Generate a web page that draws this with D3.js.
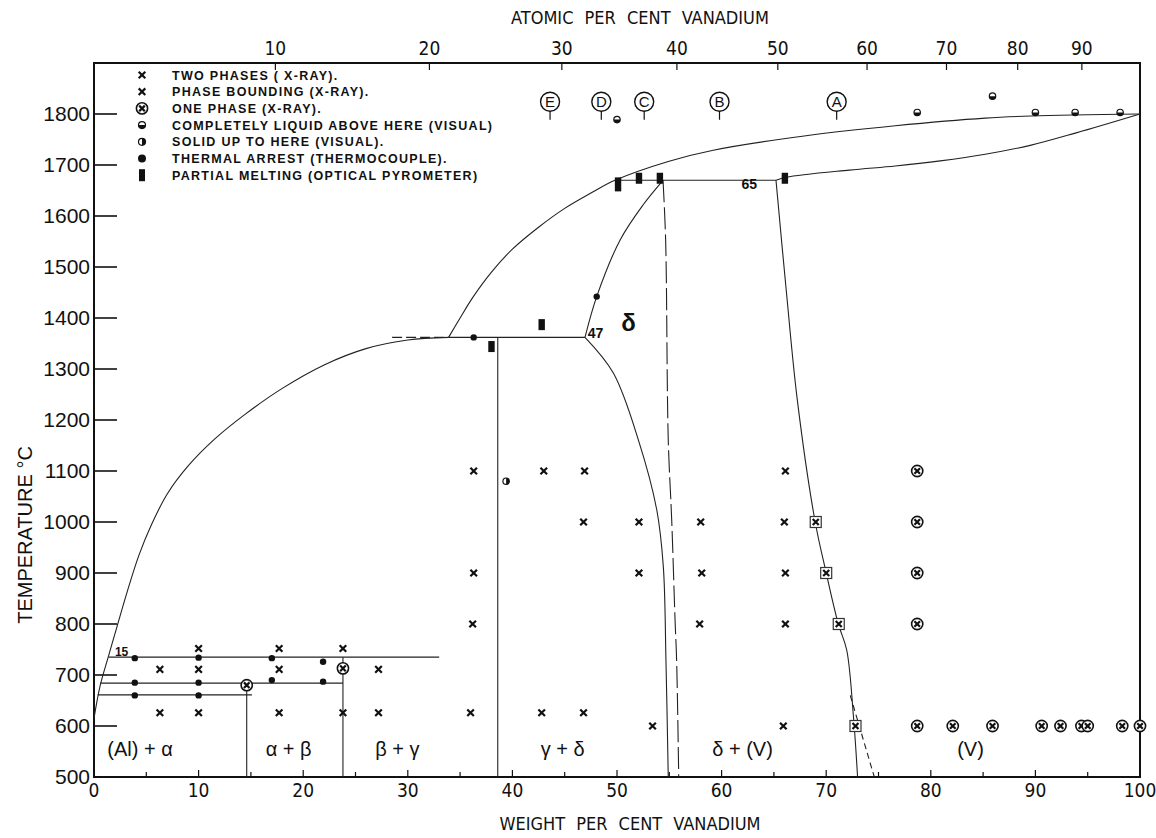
<!DOCTYPE html>
<html>
<head>
<meta charset="utf-8">
<script src="https://cdn.jsdelivr.net/npm/d3@7"></script>
<style>
  body { margin: 0; background: #fff; }
  svg { display: block; }
</style>
</head>
<body>
<div id="chart"></div>
<script>
// axis ticks
var wtTicks = [0, 10, 20, 30, 40, 50, 60, 70, 80, 90, 100];
var tempTicks = [500, 600, 700, 800, 900, 1000, 1100, 1200, 1300, 1400, 1500, 1600, 1700, 1800];
var atomicTicks = [10, 20, 30, 40, 50, 60, 70, 80, 90];

// phase boundaries, [wt% V, deg C]
var liquidusAl = [[0, 615], [0.6, 680], [1.4, 738], [2.2, 795], [3.2, 865], [4.3, 935], [5.5, 995], [7, 1055], [9, 1110], [11.5, 1162], [14.5, 1212], [18, 1262], [22, 1308], [26, 1340], [30, 1357], [33.9, 1362]];
var liquidusUpper = [[33.9, 1362], [35.0, 1400], [36.2, 1440], [38.0, 1490], [40.0, 1535], [42.5, 1578], [45.0, 1615], [47.5, 1645], [49.8, 1670], [54.9, 1707], [59.2, 1729], [67.9, 1757], [76.6, 1777], [85.2, 1792], [89.6, 1796], [100, 1800]];
var solidusV = [[65.2, 1670], [66.2, 1676], [72.2, 1690], [76.6, 1698], [80.9, 1708], [85.2, 1721], [89.6, 1739], [93.9, 1763], [100, 1800]];
var deltaUpper = [[46.94, 1362], [48.06, 1442], [50.3, 1553], [52.5, 1622], [54.4, 1670]];
var deltaLeft = [[46.94, 1362], [49.65, 1292], [52.04, 1161], [53.8, 1024], [54.43, 912], [54.68, 729], [54.9, 500]];
var deltaRight = [[54.4, 1670], [54.65, 1553], [54.9, 1161], [55.23, 1004], [55.55, 808], [55.7, 729], [55.9, 500]];
var vSolvus = [[65.2, 1670], [66.2, 1450], [67.24, 1239], [68.93, 1002], [69.98, 902], [71.16, 800], [71.96, 749], [72.6, 620], [73.0, 500]];
var vSolvusDash = [[72.3, 660], [74.6, 500]];

var isotherms = [
  [[49.8, 1670], [65.2, 1670]],
  [[33.9, 1362], [46.94, 1362]],
  [[1.4, 735], [33, 735]],
  [[0.6, 684], [23.8, 684]],
  [[0.35, 661], [15.1, 661]]
];
var isothermDash = [[[28.5, 1362], [33.9, 1362]]];
var verticals = [
  [[14.6, 684], [14.6, 500]],
  [[23.8, 735], [23.8, 500]],
  [[38.6, 1362], [38.6, 500]]
];

// experimental points
var twoPhase = [[6.3, 626], [10, 626], [17.7, 626], [23.8, 626], [27.2, 626], [36.0, 626], [42.8, 626], [46.8, 626],
  [6.3, 711], [10, 711], [17.7, 711], [27.2, 711],
  [10, 752], [17.7, 752], [23.8, 752],
  [36.2, 800], [57.9, 800], [66.1, 800],
  [36.3, 900], [52.1, 900], [58.1, 900], [66.1, 900],
  [46.8, 1000], [52.1, 1000], [58.0, 1000], [66.0, 1000],
  [36.3, 1100], [43.0, 1100], [46.9, 1100], [66.1, 1100],
  [53.4, 600], [65.9, 600]];
var phaseBounding = [[69.0, 1000], [70.0, 900], [71.2, 800], [72.8, 600]];
var onePhase = [[14.6, 680], [23.8, 713], [78.7, 1100], [78.7, 1000], [78.7, 900], [78.7, 800],
  [78.7, 600], [82.1, 600], [85.9, 600], [90.6, 600], [92.4, 600], [94.4, 600], [95.0, 600], [98.3, 600], [100, 600]];
var liquidAbove = [[50.0, 1789], [78.7, 1803], [85.9, 1835], [90.0, 1803], [93.8, 1803], [98.1, 1803]];
var solidBelow = [[39.4, 1080]];
var thermalArrest = [[3.9, 733], [10, 734], [17.0, 733], [21.9, 726], [3.9, 685], [10, 685], [17.0, 690], [21.9, 687],
  [3.9, 660], [10, 660], [36.3, 1362], [48.06, 1442]];
var partialMelting = [[50.1, 1662, 14], [52.1, 1674, 11], [54.1, 1674, 11], [66.05, 1674, 11], [38.0, 1344, 11], [42.8, 1387, 11]];

// alloy markers at top
var alloyNames = ["E", "D", "C", "B", "A"];
var alloyWt = [43.6, 48.5, 52.6, 59.8, 71.0];

var regionNames = ["(Al) + \u03b1", "\u03b1 + \u03b2", "\u03b2 + \u03b3", "\u03b3 + \u03b4", "\u03b4 + (V)", "(V)"];
var regionWt = [4.4, 18.6, 29.0, 44.8, 62.0, 83.8];

var legendText = ["TWO PHASES ( X-RAY).", "PHASE BOUNDING (X-RAY).", "ONE PHASE (X-RAY).",
  "COMPLETELY LIQUID ABOVE HERE (VISUAL)", "SOLID UP TO HERE (VISUAL).",
  "THERMAL ARREST (THERMOCOUPLE).", "PARTIAL MELTING (OPTICAL PYROMETER)"];

var width = 1156, height = 838;
var svg = d3.select("#chart").append("svg")
  .attr("width", width).attr("height", height)
  .style("font-family", "'Liberation Sans', Arial, sans-serif");
svg.append("rect").attr("width", width).attr("height", height).attr("fill", "#fff");

var x = d3.scaleLinear().domain([0, 100]).range([94, 1140]);
var y = d3.scaleLinear().domain([500, 1900]).range([777, 63]);

// atomic % -> weight % (Al 26.98, V 50.94)
function atToWt(a) { return 100 * a * 50.94 / (a * 50.94 + (100 - a) * 26.98); }

var line = d3.line().x(function(d) { return x(d[0]); }).y(function(d) { return y(d[1]); });
var curve = d3.line().x(function(d) { return x(d[0]); }).y(function(d) { return y(d[1]); }).curve(d3.curveCatmullRom.alpha(0.5));

var g = svg.append("g");

// frame
g.append("rect").attr("x", x(0)).attr("y", y(1900)).attr("width", x(100) - x(0)).attr("height", y(500) - y(1900))
  .attr("fill", "none").attr("stroke", "#111").attr("stroke-width", 2);

// left ticks
g.selectAll(".ltick").data(tempTicks.slice(1)).enter().append("line")
  .attr("x1", x(0)).attr("x2", x(0) + 23)
  .attr("y1", function(d) { return y(d); }).attr("y2", function(d) { return y(d); })
  .attr("stroke", "#111").attr("stroke-width", 1.6);
g.selectAll(".llab").data(tempTicks).enter().append("text")
  .attr("x", x(0) - 4).attr("y", function(d) { return y(d) + 7; })
  .attr("text-anchor", "end").attr("font-size", 21).attr("fill", "#111")
  .text(function(d) { return d; });

// bottom ticks
g.selectAll(".btick").data(d3.range(5, 100, 5)).enter().append("line")
  .attr("x1", function(d) { return x(d); }).attr("x2", function(d) { return x(d); })
  .attr("y1", y(500)).attr("y2", function(d) { return y(500) - (d % 10 == 0 ? 7 : 5); })
  .attr("stroke", "#111").attr("stroke-width", 1.2);
g.selectAll(".blab").data(wtTicks).enter().append("text")
  .attr("x", function(d) { return x(d); }).attr("y", y(500) + 20)
  .attr("text-anchor", "middle").attr("font-size", 19).attr("fill", "#111")
  .attr("font-family", "'DejaVu Sans Condensed', 'DejaVu Sans', sans-serif").attr("font-weight", 300)
  .text(function(d) { return d; });

// top ticks (atomic %)
g.selectAll(".ttick").data(atomicTicks).enter().append("line")
  .attr("x1", function(d) { return x(atToWt(d)); }).attr("x2", function(d) { return x(atToWt(d)); })
  .attr("y1", y(1900)).attr("y2", y(1900) + 7)
  .attr("stroke", "#111").attr("stroke-width", 1.2);
g.selectAll(".tlab").data(atomicTicks).enter().append("text")
  .attr("x", function(d) { return x(atToWt(d)); }).attr("y", y(1900) - 8)
  .attr("text-anchor", "middle").attr("font-size", 19).attr("fill", "#111")
  .attr("font-family", "'DejaVu Sans Condensed', 'DejaVu Sans', sans-serif")
  .text(function(d) { return d; });

// axis titles
svg.append("text").attr("x", 640).attr("y", 24).attr("text-anchor", "middle")
  .attr("font-size", 18).attr("word-spacing", 6).attr("fill", "#111")
  .attr("font-family", "'DejaVu Sans Condensed', 'DejaVu Sans', sans-serif")
  .text("ATOMIC PER CENT VANADIUM");
svg.append("text").attr("x", 630).attr("y", 830).attr("text-anchor", "middle")
  .attr("font-size", 18).attr("word-spacing", 6).attr("fill", "#111")
  .attr("font-family", "'DejaVu Sans Condensed', 'DejaVu Sans', sans-serif")
  .text("WEIGHT PER CENT VANADIUM");
svg.append("text").attr("transform", "translate(32," + 535 + ") rotate(-90)")
  .attr("text-anchor", "middle").attr("font-size", 20).attr("fill", "#111")
  .text("TEMPERATURE \u00b0C");

// phase lines
var lines = g.append("g").attr("fill", "none").attr("stroke", "#222").attr("stroke-width", 1.1);
[liquidusAl, liquidusUpper, solidusV, deltaUpper, deltaLeft, vSolvus].forEach(function(p) {
  lines.append("path").attr("d", curve(p));
});
lines.append("path").attr("d", curve(deltaRight)).attr("stroke-dasharray", "22,5");
lines.append("path").attr("d", line(vSolvusDash)).attr("stroke-dasharray", "6,4");
isotherms.concat(verticals).forEach(function(p) { lines.append("path").attr("d", line(p)); });
isothermDash.forEach(function(p) { lines.append("path").attr("d", line(p)).attr("stroke-dasharray", "10,4"); });

// marker helpers
function cross(sel, cx, cy, s) {
  sel.append("path").attr("d", "M" + (cx - s) + "," + (cy - s) + "L" + (cx + s) + "," + (cy + s) +
    "M" + (cx + s) + "," + (cy - s) + "L" + (cx - s) + "," + (cy + s))
    .attr("stroke", "#111").attr("stroke-width", 2.2).attr("fill", "none");
}
function circX(sel, cx, cy) {
  sel.append("circle").attr("cx", cx).attr("cy", cy).attr("r", 5.6).attr("fill", "#fff").attr("stroke", "#111").attr("stroke-width", 1.6);
  cross(sel, cx, cy, 2.8);
}
function boxX(sel, cx, cy) {
  sel.append("rect").attr("x", cx - 5.5).attr("y", cy - 5.5).attr("width", 11).attr("height", 11)
    .attr("fill", "#fff").attr("stroke", "#333").attr("stroke-width", 1.2);
  cross(sel, cx, cy, 3);
}
function halfDot(sel, cx, cy, r, vertical) {
  sel.append("circle").attr("cx", cx).attr("cy", cy).attr("r", r).attr("fill", "#fff").attr("stroke", "#111").attr("stroke-width", 1.2);
  var a = vertical ? d3.arc()({innerRadius: 0, outerRadius: r, startAngle: 0, endAngle: Math.PI})
                   : d3.arc()({innerRadius: 0, outerRadius: r, startAngle: Math.PI / 2, endAngle: Math.PI * 1.5});
  sel.append("path").attr("d", a).attr("transform", "translate(" + cx + "," + cy + ")").attr("fill", "#111");
}

var marks = g.append("g");
twoPhase.forEach(function(d) { cross(marks, x(d[0]), y(d[1]), 3.3); });
phaseBounding.forEach(function(d) { boxX(marks, x(d[0]), y(d[1])); });
onePhase.forEach(function(d) { circX(marks, x(d[0]), y(d[1])); });
liquidAbove.forEach(function(d) { halfDot(marks, x(d[0]), y(d[1]), 3.2, false); });
solidBelow.forEach(function(d) { halfDot(marks, x(d[0]), y(d[1]), 3.2, true); });
thermalArrest.forEach(function(d) {
  marks.append("circle").attr("cx", x(d[0])).attr("cy", y(d[1])).attr("r", 3.2).attr("fill", "#111");
});
partialMelting.forEach(function(d) {
  marks.append("rect").attr("x", x(d[0]) - 3.2).attr("y", y(d[1]) - d[2] / 2).attr("width", 6.4).attr("height", d[2]).attr("fill", "#111");
});

// alloy letters
alloyWt.forEach(function(w, i) {
  var cx = x(w), cy = y(1824);
  marks.append("circle").attr("cx", cx).attr("cy", cy).attr("r", 9.5).attr("fill", "#fff").attr("stroke", "#111").attr("stroke-width", 1.4);
  marks.append("text").attr("x", cx).attr("y", cy + 5.5).attr("text-anchor", "middle").attr("font-size", 15).attr("fill", "#111").text(alloyNames[i]);
  marks.append("line").attr("x1", cx).attr("x2", cx).attr("y1", cy + 9.5).attr("y2", cy + 18).attr("stroke", "#111").attr("stroke-width", 1.2);
});

// region labels
regionNames.forEach(function(t, i) {
  g.append("text").attr("x", x(regionWt[i])).attr("y", y(556) + 8).attr("text-anchor", "middle")
    .attr("font-size", 20).attr("fill", "#111").text(t);
});
g.append("text").attr("x", x(51.1)).attr("y", y(1390) + 8).attr("text-anchor", "middle").attr("font-size", 24).attr("font-weight", "bold").attr("fill", "#111").text("\u03b4");
g.append("text").attr("x", x(47.2)).attr("y", y(1362) + 1).attr("font-size", 14).attr("font-weight", "bold").attr("fill", "#111").text("47");
g.append("text").attr("x", x(63.4)).attr("y", y(1652)).attr("text-anchor", "end").attr("font-size", 14).attr("font-weight", "bold").attr("fill", "#111").text("65");
g.append("text").attr("x", x(2.0)).attr("y", y(737)).attr("font-size", 12).attr("font-weight", "bold").attr("fill", "#111").text("15");

// legend
var leg = g.append("g");
legendText.forEach(function(t, i) {
  var ly = 75 + i * 16.7;
  leg.append("text").attr("x", 172).attr("y", ly + 4.5).attr("font-size", 12.5).attr("letter-spacing", 1.3)
    .attr("font-weight", "bold").attr("fill", "#111").text(t);
  var sx = 142;
  if (i < 2) cross(leg, sx, ly, 3.3);
  else if (i == 2) circX(leg, sx, ly);
  else if (i == 3) halfDot(leg, sx, ly, 3.5, false);
  else if (i == 4) halfDot(leg, sx, ly, 3.5, true);
  else if (i == 5) leg.append("circle").attr("cx", sx).attr("cy", ly).attr("r", 4).attr("fill", "#111");
  else leg.append("rect").attr("x", sx - 3).attr("y", ly - 6).attr("width", 6).attr("height", 12).attr("fill", "#111");
});
</script>
</body>
</html>
